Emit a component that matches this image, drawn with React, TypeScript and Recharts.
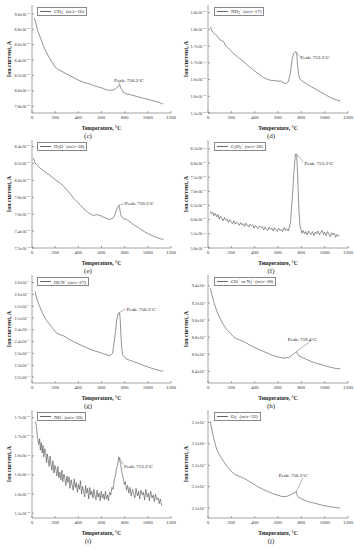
import React from 'react';
import { LineChart, Line, XAxis, YAxis, ReferenceLine, ReferenceDot, Legend } from 'recharts';

const FONT = "'Liberation Serif', 'Times New Roman', serif";
const AXIS = '#666';
const LINE = '#4a4a4a';

const xTicks = [0, 200, 400, 600, 800, 1000, 1200];

// (c) CH3+
const cTemps = [20, 30, 50, 75, 100, 125, 150, 175, 200, 225, 250, 300, 350, 400, 450, 500, 550, 600, 650, 680, 700, 720, 740, 756, 770, 790, 820, 850, 900, 950, 1000, 1050, 1100, 1120, 1130];
const cValues = [8.95, 8.9, 8.78, 8.68, 8.58, 8.5, 8.43, 8.37, 8.31, 8.28, 8.26, 8.22, 8.18, 8.14, 8.11, 8.09, 8.06, 8.04, 8.01, 8.01, 8.01, 8.03, 8.05, 8.08, 8.03, 7.98, 7.96, 7.95, 7.93, 7.91, 7.89, 7.87, 7.85, 7.83, 7.84];
const cYTicks = [7.8, 8.0, 8.2, 8.4, 8.6, 8.8, 9.0];
const cYLabels = ['7.8', '8.0', '8.2', '8.4', '8.6', '8.8', '9.0'];

// (d) NH3+
const dTemps = [20, 35, 50, 65, 80, 95, 106, 120, 134, 150, 163, 190, 220, 260, 306, 350, 391, 430, 477, 500, 534, 570, 600, 620, 645, 663, 677, 690, 706, 720, 734, 745, 753, 760, 769, 778, 786, 800, 820, 850, 877, 910, 963, 1000, 1049, 1080, 1110, 1134];
const dValues = [1.808, 1.795, 1.788, 1.785, 1.78, 1.772, 1.768, 1.766, 1.763, 1.752, 1.748, 1.738, 1.728, 1.716, 1.703, 1.69, 1.678, 1.668, 1.656, 1.652, 1.648, 1.647, 1.645, 1.646, 1.641, 1.638, 1.64, 1.645, 1.668, 1.708, 1.728, 1.732, 1.733, 1.728, 1.688, 1.665, 1.653, 1.648, 1.643, 1.636, 1.63, 1.624, 1.613, 1.606, 1.596, 1.592, 1.588, 1.586];
const dYTicks = [1.55, 1.6, 1.65, 1.7, 1.75, 1.8, 1.85];
const dYLabels = ['1.5', '1.6', '1.6', '1.7', '1.7', '1.8', '1.8'];

// (e) H2O+
const eTemps = [12, 25, 40, 69, 100, 127, 155, 184, 210, 242, 270, 299, 330, 357, 385, 414, 440, 472, 500, 530, 558, 590, 616, 645, 673, 702, 715, 725, 738, 750, 758, 765, 776, 788, 817, 845, 875, 920, 961, 1000, 1047, 1080, 1105, 1134];
const eValues = [8.263, 8.21, 8.184, 8.145, 8.115, 8.086, 8.06, 8.027, 8.0, 7.969, 7.935, 7.89, 7.84, 7.792, 7.752, 7.714, 7.675, 7.635, 7.605, 7.584, 7.596, 7.583, 7.565, 7.55, 7.537, 7.557, 7.59, 7.635, 7.68, 7.706, 7.66, 7.596, 7.565, 7.549, 7.537, 7.51, 7.478, 7.44, 7.4, 7.37, 7.341, 7.322, 7.31, 7.302];
const eYTicks = [7.2, 7.4, 7.6, 7.8, 8.0, 8.2, 8.4];
const eYLabels = ['7.2', '7.4', '7.6', '7.8', '8.0', '8.2', '8.4'];

// (f) C2H2+
const fTemps = [20, 30, 42, 50, 62, 75, 85, 95, 108, 118, 130, 142, 152, 165, 175, 188, 198, 210, 222, 232, 245, 255, 268, 280, 290, 302, 315, 325, 338, 350, 360, 372, 385, 395, 408, 420, 430, 442, 455, 465, 478, 490, 500, 512, 525, 535, 548, 560, 570, 582, 595, 605, 618, 630, 640, 652, 665, 675, 688, 698, 708, 716, 725, 735, 745, 750, 760, 765, 772, 780, 788, 796, 806, 816, 828, 838, 850, 862, 872, 885, 895, 908, 920, 930, 942, 955, 965, 978, 990, 1000, 1012, 1025, 1035, 1048, 1060, 1070, 1082, 1095, 1105, 1118, 1128];
const fValues = [6.3, 6.2, 6.26, 6.14, 6.22, 6.1, 6.18, 6.02, 6.12, 6.06, 5.96, 6.08, 5.98, 6.02, 5.9, 6.0, 5.94, 5.86, 5.96, 5.84, 5.92, 5.88, 5.8, 5.9, 5.82, 5.86, 5.76, 5.88, 5.8, 5.74, 5.84, 5.78, 5.82, 5.7, 5.8, 5.74, 5.68, 5.78, 5.72, 5.76, 5.64, 5.74, 5.68, 5.62, 5.74, 5.66, 5.7, 5.6, 5.72, 5.64, 5.58, 5.7, 5.62, 5.66, 5.58, 5.72, 5.62, 5.68, 5.6, 5.74, 5.92, 6.4, 6.9, 7.6, 8.1, 8.32, 8.3, 7.9, 7.1, 6.3, 5.8, 5.66, 5.52, 5.62, 5.5, 5.58, 5.46, 5.6, 5.52, 5.48, 5.58, 5.44, 5.56, 5.5, 5.6, 5.46, 5.54, 5.62, 5.48, 5.56, 5.44, 5.58, 5.5, 5.4, 5.54, 5.46, 5.52, 5.38, 5.48, 5.42, 5.44];
const fYTicks = [5.0, 5.5, 6.0, 6.5, 7.0, 7.5, 8.0, 8.5];
const fYLabels = ['5.0', '5.5', '6.0', '6.5', '7.0', '7.5', '8.0', '8.5'];

// (g) HCN+
const gTemps = [26, 40, 55, 75, 98, 125, 155, 185, 213, 240, 270, 300, 328, 370, 414, 460, 501, 545, 587, 620, 645, 673, 696, 716, 731, 745, 756, 762, 768, 775, 783, 800, 817, 845, 875, 920, 961, 1000, 1047, 1080, 1105, 1120, 1134];
const gValues = [2.562, 2.535, 2.513, 2.488, 2.463, 2.44, 2.421, 2.402, 2.386, 2.38, 2.375, 2.366, 2.358, 2.348, 2.337, 2.327, 2.318, 2.31, 2.304, 2.298, 2.294, 2.29, 2.301, 2.372, 2.442, 2.47, 2.473, 2.44, 2.372, 2.32, 2.294, 2.283, 2.276, 2.271, 2.266, 2.258, 2.249, 2.243, 2.235, 2.231, 2.227, 2.225, 2.228];
const gYTicks = [2.2, 2.25, 2.3, 2.35, 2.4, 2.45, 2.5, 2.55, 2.6];
const gYLabels = ['2.2', '2.3', '2.3', '2.4', '2.4', '2.5', '2.5', '2.6', '2.6'];

// (h) CO+ or N2+
const hTemps = [20, 35, 49, 63, 77, 105, 134, 160, 191, 215, 234, 270, 306, 350, 391, 435, 477, 520, 563, 605, 649, 691, 715, 734, 750, 759, 768, 777, 800, 820, 860, 906, 950, 991, 1035, 1077, 1110, 1134];
const hValues = [9.373, 9.29, 9.217, 9.155, 9.1, 9.015, 8.945, 8.89, 8.847, 8.81, 8.789, 8.768, 8.75, 8.715, 8.684, 8.657, 8.633, 8.607, 8.583, 8.568, 8.556, 8.563, 8.585, 8.605, 8.622, 8.632, 8.6, 8.583, 8.568, 8.556, 8.53, 8.505, 8.487, 8.47, 8.454, 8.439, 8.433, 8.431];
const hYTicks = [8.4, 8.6, 8.8, 9.0, 9.2, 9.4];
const hYLabels = ['8.4', '8.6', '8.8', '9.0', '9.2', '9.4'];

// (i) NO+
const iTemps = [30, 38, 45, 52, 58, 66, 72, 80, 88, 95, 102, 110, 118, 125, 132, 140, 148, 156, 164, 172, 180, 190, 198, 206, 215, 224, 232, 240, 250, 258, 266, 276, 284, 292, 302, 310, 320, 328, 338, 346, 356, 364, 374, 382, 392, 400, 410, 418, 428, 436, 446, 455, 462, 472, 480, 490, 498, 508, 516, 526, 534, 544, 552, 562, 570, 580, 588, 598, 606, 616, 624, 634, 642, 652, 660, 670, 680, 690, 700, 710, 720, 730, 740, 750, 758, 766, 774, 782, 790, 798, 806, 816, 826, 836, 846, 856, 868, 878, 888, 898, 910, 920, 930, 940, 952, 962, 972, 982, 994, 1004, 1014, 1024, 1036, 1046, 1056, 1066, 1078, 1088, 1098, 1108, 1120];
const iValues = [1.712, 1.702, 1.684, 1.672, 1.664, 1.676, 1.652, 1.668, 1.646, 1.662, 1.638, 1.655, 1.648, 1.626, 1.644, 1.632, 1.618, 1.64, 1.622, 1.61, 1.63, 1.604, 1.62, 1.612, 1.598, 1.618, 1.594, 1.606, 1.59, 1.61, 1.586, 1.602, 1.592, 1.578, 1.598, 1.584, 1.596, 1.572, 1.59, 1.58, 1.568, 1.592, 1.574, 1.584, 1.564, 1.58, 1.57, 1.588, 1.56, 1.576, 1.566, 1.554, 1.578, 1.562, 1.572, 1.55, 1.574, 1.558, 1.566, 1.552, 1.57, 1.556, 1.548, 1.568, 1.554, 1.562, 1.546, 1.566, 1.552, 1.56, 1.548, 1.566, 1.55, 1.558, 1.546, 1.564, 1.558, 1.574, 1.57, 1.59, 1.598, 1.614, 1.622, 1.638, 1.63, 1.622, 1.608, 1.6, 1.59, 1.58, 1.586, 1.568, 1.578, 1.562, 1.574, 1.556, 1.57, 1.56, 1.552, 1.572, 1.556, 1.566, 1.55, 1.568, 1.558, 1.564, 1.548, 1.57, 1.554, 1.562, 1.546, 1.566, 1.552, 1.558, 1.544, 1.56, 1.548, 1.552, 1.54, 1.55, 1.536];
const iYTicks = [1.52, 1.56, 1.6, 1.64, 1.68, 1.72];
const iYLabels = ['1.5', '1.6', '1.6', '1.6', '1.7', '1.7'];

// (j) O2+
const jTemps = [20, 35, 49, 63, 77, 105, 134, 160, 191, 215, 234, 270, 306, 350, 391, 435, 477, 520, 563, 600, 634, 665, 691, 715, 734, 748, 756, 765, 777, 800, 820, 860, 906, 950, 991, 1035, 1077, 1110, 1134];
const jValues = [2.302, 2.28, 2.263, 2.248, 2.236, 2.221, 2.209, 2.198, 2.189, 2.182, 2.178, 2.174, 2.17, 2.163, 2.156, 2.149, 2.143, 2.138, 2.133, 2.13, 2.127, 2.127, 2.129, 2.132, 2.135, 2.137, 2.138, 2.13, 2.125, 2.122, 2.119, 2.115, 2.112, 2.109, 2.106, 2.104, 2.102, 2.101, 2.1];
const jYTicks = [2.1, 2.15, 2.2, 2.25, 2.3];
const jYLabels = ['2.1', '2.2', '2.2', '2.3', '2.3'];

const Sub = ({ children }: any) => <span style={{ fontSize: 3.5, verticalAlign: -1 }}>{children}</span>;
const Sup = ({ children }: any) => <span style={{ fontSize: 3.5, verticalAlign: 2 }}>{children}</span>;
const MZ = ({ n }: any) => <span> (<i>m</i>/<i>z</i>={n})</span>;

const panels: any[] = [
  { cap: '(c)', temps: cTemps, values: cValues, yTicks: cYTicks, yLabels: cYLabels, exp: '-10', domain: [7.713, 9.117],
    legend: <span>CH<Sub>3</Sub><Sup>+</Sup><MZ n={16} /></span>,
    peak: { t: 756, v: 8.08 }, lineEnd: { t: 752, v: 8.112 }, text: { t: 711, v: 8.14, s: 'Peak: 756.3°C' } },
  { cap: '(d)', temps: dTemps, values: dValues, yTicks: dYTicks, yLabels: dYLabels, exp: '-10', domain: [1.55, 1.873],
    legend: <span>NH<Sub>3</Sub><Sup>+</Sup><MZ n={17} /></span>,
    peak: { t: 753, v: 1.733 }, lineEnd: { t: 788, v: 1.718 }, text: { t: 791, v: 1.716, s: 'Peak: 753.3°C' } },
  { cap: '(e)', temps: eTemps, values: eValues, yTicks: eYTicks, yLabels: eYLabels, exp: '-10', domain: [7.2, 8.478],
    legend: <span>H<Sub>2</Sub>O<Sup>+</Sup><MZ n={18} /></span>,
    peak: { t: 750, v: 7.706 }, lineEnd: { t: 798, v: 7.728 }, text: { t: 803, v: 7.724, s: 'Peak: 750.3°C' } },
  { cap: '(f)', temps: fTemps, values: fValues, yTicks: fYTicks, yLabels: fYLabels, exp: '-12', domain: [5.0, 8.814],
    legend: <span>C<Sub>2</Sub>H<Sub>2</Sub><Sup>+</Sup><MZ n={26} /></span>,
    peak: { t: 760, v: 8.31 }, lineEnd: { t: 820, v: 8.03 }, text: { t: 826, v: 8.0, s: 'Peak: 753.3°C' } },
  { cap: '(g)', temps: gTemps, values: gValues, yTicks: gYTicks, yLabels: gYLabels, exp: '-11', domain: [2.175, 2.632],
    legend: <span>HCN<Sup>+</Sup><MZ n={27} /></span>,
    peak: { t: 756, v: 2.473 }, lineEnd: { t: 812, v: 2.489 }, text: { t: 817, v: 2.487, s: 'Peak: 756.3°C' } },
  { cap: '(h)', temps: hTemps, values: hValues, yTicks: hYTicks, yLabels: hYLabels, exp: '-9', domain: [8.264, 9.528],
    legend: <span>CO<Sup>+</Sup> or N<Sub>2</Sub><Sup>+</Sup><MZ n={28} /></span>,
    peak: { t: 759, v: 8.63 }, lineEnd: { t: 885, v: 8.762 }, text: { t: 683, v: 8.781, s: 'Peak: 759.4°C' } },
  { cap: '(i)', temps: iTemps, values: iValues, yTicks: iYTicks, yLabels: iYLabels, exp: '-10', domain: [1.51, 1.736],
    legend: <span>NO<Sup>+</Sup><MZ n={30} /></span>,
    peak: { t: 753, v: 1.636 }, lineEnd: { t: 790, v: 1.622 }, text: { t: 794, v: 1.619, s: 'Peak: 753.3°C' } },
  { cap: '(j)', temps: jTemps, values: jValues, yTicks: jYTicks, yLabels: jYLabels, exp: '-9', domain: [2.077, 2.329],
    legend: <span>O<Sub>2</Sub><Sup>+</Sup><MZ n={32} /></span>,
    peak: { t: 756, v: 2.138 }, lineEnd: { t: 812, v: 2.17 }, text: { t: 606, v: 2.176, s: 'Peak: 756.3°C' } },
];

const YTick = (props: any) => {
  const { x, y, payload, ticks, labels, exp } = props;
  let idx = 0;
  let best = Infinity;
  ticks.forEach((t: number, i: number) => {
    const d = Math.abs(t - payload.value);
    if (d < best) { best = d; idx = i; }
  });
  return (
    <text x={x} y={y} dy={1.5} textAnchor="end" fontSize={4.3} fontFamily={FONT} fill="#333">
      <tspan>{labels[idx]}x10</tspan>
      <tspan dy={-1.8} fontSize={2.8}>{exp}</tspan>
    </text>
  );
};

const LegendBox = ({ children }: any) => (
  <div style={{ border: '0.5px solid #888', background: '#fff', padding: '0 2px 0 2px', display: 'flex', alignItems: 'center', height: 9, boxSizing: 'border-box', fontFamily: FONT, fontSize: 5, color: '#222', whiteSpace: 'nowrap', lineHeight: '9px' }}>
    <span style={{ display: 'inline-block', width: 11, borderTop: '0.6px solid #666', marginRight: 3 }} />
    {children}
  </div>
);

function Panel({ cfg, col }: any) {
  const data = cfg.temps.map((t: number, i: number) => ({ t, v: cfg.values[i] }));
  const yW = col === 0 ? 32 : 31;
  return (
    <LineChart width={177} height={140} data={data} margin={{ top: 5, right: 6, bottom: 5, left: 0 }}>
      <XAxis dataKey="t" type="number" domain={[0, 1200]} ticks={xTicks} interval={0} height={22}
        tickSize={-2} tickMargin={4} stroke={AXIS} strokeWidth={0.6}
        tick={{ fontSize: 5, fontFamily: FONT, fill: '#333' }}
        label={{ value: 'Temperature, °C', position: 'insideBottom', offset: 5, style: { fontSize: 5.5, fontWeight: 'bold', fontFamily: FONT, fill: '#222' } }} />
      <XAxis xAxisId="top" orientation="top" type="number" domain={[0, 1200]} ticks={xTicks} interval={0} height={0}
        tick={false} tickSize={-2} stroke={AXIS} strokeWidth={0.6} />
      <YAxis type="number" domain={cfg.domain} ticks={cfg.yTicks} interval={0} width={yW} allowDataOverflow
        tickSize={-2} tickMargin={4} stroke={AXIS} strokeWidth={0.6}
        tick={<YTick ticks={cfg.yTicks} labels={cfg.yLabels} exp={cfg.exp} />}
        label={{ value: 'Ion current, A', angle: -90, position: 'insideLeft', offset: 9, style: { textAnchor: 'middle', fontSize: 6, fontWeight: 'bold', fontFamily: FONT, fill: '#222' } }} />
      <YAxis yAxisId="right" orientation="right" type="number" domain={cfg.domain} ticks={cfg.yTicks} interval={0} width={0}
        allowDataOverflow tick={false} tickSize={-2} stroke={AXIS} strokeWidth={0.6} />
      <Line dataKey="v" type="linear" stroke={LINE} strokeWidth={0.6} dot={false} isAnimationActive={false} />
      <ReferenceLine segment={[{ x: cfg.peak.t, y: cfg.peak.v }, { x: cfg.lineEnd.t, y: cfg.lineEnd.v }]} stroke="#666" strokeWidth={0.5} ifOverflow="visible" />
      <ReferenceDot x={cfg.text.t} y={cfg.text.v} r={0.01} fill="none" stroke="none" ifOverflow="visible"
        label={{ value: cfg.text.s, position: 'right', offset: 0, style: { fontSize: 5, fontFamily: FONT, fill: '#222' } }} />
      <Legend layout="vertical" align="center" verticalAlign="middle"
        wrapperStyle={{ left: 37, top: 7, width: 'auto' }}
        content={() => <LegendBox>{cfg.legend}</LegendBox>} />
    </LineChart>
  );
}

export default function App() {
  return (
    <div style={{ position: 'absolute', left: 0, top: 0, width: 354, height: 550, background: '#fff', overflow: 'hidden' }}>
      {panels.map((cfg, i) => {
        const col = i % 2;
        const row = Math.floor(i / 2);
        return (
          <div key={i} style={{ position: 'absolute', left: col * 177, top: row * 135, width: 177, height: 140 }}>
            <Panel cfg={cfg} col={col} />
          </div>
        );
      })}
      {panels.map((cfg, i) => {
        const col = i % 2;
        const row = Math.floor(i / 2);
        return (
          <div key={'cap' + i} style={{ position: 'absolute', left: (col === 0 ? 88 : 271) - 10, width: 20, top: row * 135 + 132, textAlign: 'center', fontFamily: FONT, fontSize: 7, lineHeight: '8px', color: '#222' }}>
            {cfg.cap}
          </div>
        );
      })}
    </div>
  );
}
